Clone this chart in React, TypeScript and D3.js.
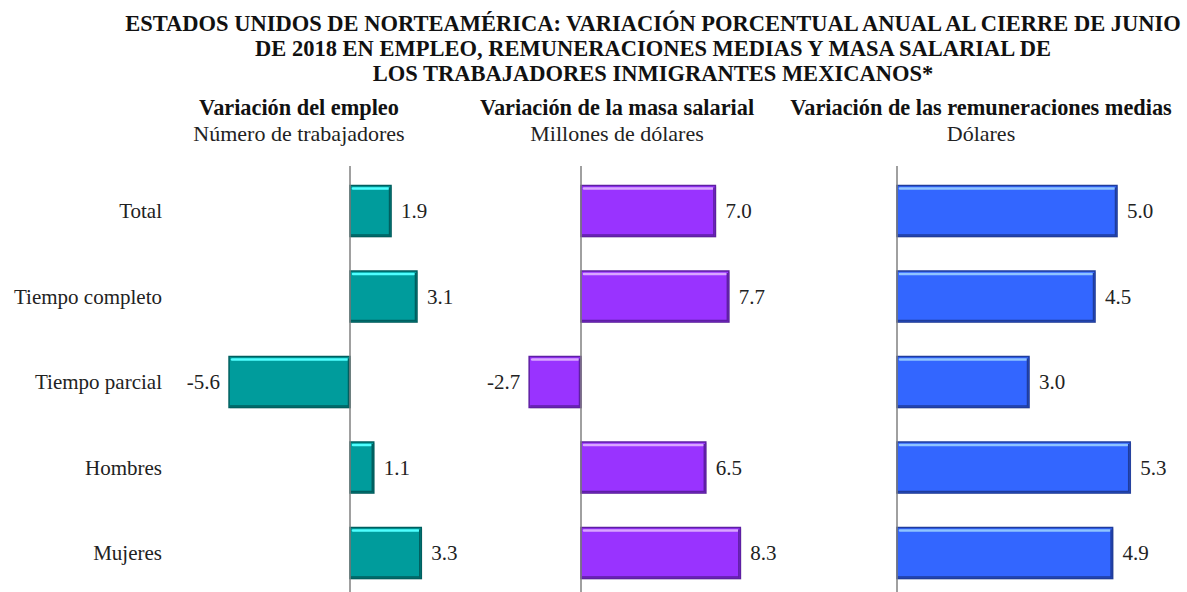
import React from "react";
import * as d3 from "d3";

const categories = ["Total", "Tiempo completo", "Tiempo parcial", "Hombres", "Mujeres"];
const empleo = [1.9, 3.1, -5.6, 1.1, 3.3];
const masaSalarial = [7.0, 7.7, -2.7, 6.5, 8.3];
const remuneraciones = [5.0, 4.5, 3.0, 5.3, 4.9];

const titleLines = [
  "ESTADOS UNIDOS DE NORTEAMÉRICA: VARIACIÓN PORCENTUAL ANUAL AL CIERRE DE JUNIO",
  "DE 2018 EN EMPLEO, REMUNERACIONES MEDIAS Y MASA SALARIAL DE",
  "LOS TRABAJADORES INMIGRANTES MEXICANOS*",
];

const panelTitles = ["Variación del empleo", "Variación de la masa salarial", "Variación de las remuneraciones medias"];
const panelSubtitles = ["Número de trabajadores", "Millones de dólares", "Dólares"];

const W = 1187;
const H = 592;
const FONT = "Liberation Serif";

const panels = [
  { values: empleo, zero: 350, perUnit: 21.6, center: 299, fill: "#009c9c", dark: "#005f5f", light: "#4fffff" },
  { values: masaSalarial, zero: 581, perUnit: 19.2, center: 617, fill: "#9933ff", dark: "#5e1fa3", light: "#d9a6ff" },
  { values: remuneraciones, zero: 897, perUnit: 44, center: 981, fill: "#3366ff", dark: "#1f3c9c", light: "#8fc4ff" },
];

const y = d3.scalePoint<string>().domain(categories).range([211, 553]);
const BAR_H = 51;
const fmt = (v: number) => d3.format(".1f")(v).replace("\u2212", "-");

export default function App() {
  return (
    <svg width={W} height={H} style={{ position: "absolute", left: 0, top: 0, background: "#fff", fontFamily: FONT }}>
      {titleLines.map((t, i) => (
        <text key={i} x={653} y={30.5 + i * 25} textAnchor="middle" fontWeight="bold" fontSize={22.5} fill="#111">
          {t}
        </text>
      ))}
      {panels.map((p, pi) => (
        <g key={pi}>
          <text x={p.center} y={114.5} textAnchor="middle" fontWeight="bold" fontSize={22.3} fill="#111">
            {panelTitles[pi]}
          </text>
          <text x={p.center} y={140.5} textAnchor="middle" fontSize={22} fill="#222">
            {panelSubtitles[pi]}
          </text>
        </g>
      ))}
      {categories.map((c) => (
        <text key={c} x={162} y={y(c)! + 7} textAnchor="end" fontSize={21} fill="#222">
          {c}
        </text>
      ))}
      {panels.map((p, pi) => {
        const x = d3.scaleLinear().domain([0, 10]).range([p.zero, p.zero + 10 * p.perUnit]);
        return (
          <g key={"p" + pi}>
            {p.values.map((v, i) => {
              const x0 = Math.min(x(0), x(v));
              const x1 = Math.max(x(0), x(v));
              const yc = y(categories[i])!;
              const top = yc - BAR_H / 2;
              const w = x1 - x0;
              return (
                <g key={i}>
                  <rect x={x0 + 1} y={top + 1} width={w} height={BAR_H} fill="#bbb" opacity={0.5} />
                  <rect x={x0} y={top} width={w} height={BAR_H} fill={p.fill} stroke={p.dark} strokeWidth={1.5} />
                  <line x1={x0 + 3} x2={x1 - 3} y1={top + 3} y2={top + 3} stroke={p.light} strokeWidth={2.5} strokeLinecap="round" />
                  <line x1={x0 + 1} x2={x1 - 1} y1={top + BAR_H - 1.5} y2={top + BAR_H - 1.5} stroke={p.dark} strokeWidth={1.5} />
                  <line x1={x1 - 1.5} x2={x1 - 1.5} y1={top + 2} y2={top + BAR_H - 1} stroke={p.dark} strokeWidth={1.5} />
                  <text
                    x={v >= 0 ? x(v) + 10 : x(v) - 9}
                    y={yc + 7}
                    textAnchor={v >= 0 ? "start" : "end"}
                    fontSize={21}
                    fill="#222"
                  >
                    {fmt(v)}
                  </text>
                </g>
              );
            })}
            <line x1={x(0)} x2={x(0)} y1={166} y2={H} stroke="#808080" strokeWidth={1.5} />
          </g>
        );
      })}
    </svg>
  );
}
